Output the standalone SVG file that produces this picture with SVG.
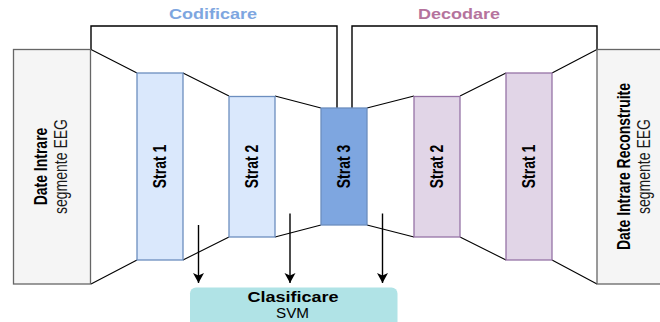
<svg xmlns="http://www.w3.org/2000/svg" width="660" height="322" viewBox="0 0 660 322">
  <defs>
    <style>
      .io { fill: #f5f5f5; stroke: #666666; stroke-width: 1.3; }
      .enc { fill: #dae8fc; stroke: #6c8ebf; stroke-width: 1.3; }
      .mid { fill: #7ea6e0; stroke: #6c8ebf; stroke-width: 1.3; }
      .dec { fill: #e1d5e7; stroke: #9673a6; stroke-width: 1.3; }
      .svm { fill: #b0e3e6; stroke: none; }
      .edge { fill: none; stroke: #000000; stroke-width: 1.1; }
      .brace { fill: none; stroke: #000000; stroke-width: 1.4; }
      .arrow { fill: none; stroke: #000000; stroke-width: 1.4; marker-end: url(#head); }
      text { font-family: "Liberation Sans", Arial, Helvetica, sans-serif; font-size: 14px; fill: #000000; text-anchor: middle; }
      .b { font-weight: bold; }
      .sub { fill: #1a1a1a; }
      .lblEnc { fill: #7ea6e0; font-weight: bold; }
      .lblDec { fill: #b5739d; font-weight: bold; }
    </style>
    <marker id="head" markerWidth="12" markerHeight="12" refX="10" refY="5.5" orient="auto" markerUnits="userSpaceOnUse">
      <path d="M0,0 L10,5.5 L0,11 L2.5,5.5 Z" fill="#000000"/>
    </marker>
  </defs>

  <!-- section titles -->
  <text class="lblEnc" x="213" y="19" textLength="88" lengthAdjust="spacingAndGlyphs">Codificare</text>
  <text class="lblDec" x="459" y="19" textLength="82" lengthAdjust="spacingAndGlyphs">Decodare</text>

  <!-- connectors: brackets, funnel outlines, arrows to the classifier -->
  <g id="connectors">
    <path class="brace" d="M91,49.5 V26 H337 V119"/>
    <path class="brace" d="M352,119 V26 H597 V49.5"/>

    <path class="edge" d="M91,49.5 L137,73 M183,73 L229,96 M275,96 L321,108 M367,108 L414,96 M460,96 L506,73 M552,73 L597,49.5"/>
    <path class="edge" d="M91,284 L137,260 M183,260 L229,237 M275,237 L321,225 M367,225 L414,237 M460,237 L506,260 M552,260 L597,284"/>

    <line class="arrow" x1="198.5" y1="225" x2="198.5" y2="283"/>
    <line class="arrow" x1="290" y1="213.5" x2="290" y2="283"/>
    <line class="arrow" x1="382.5" y1="213.5" x2="382.5" y2="283"/>
  </g>

  <g id="input">
    <rect class="io" x="13.5" y="49.5" width="77" height="234.5"/>
    <g transform="translate(52,166.5) scale(1.28,1) rotate(-90)">
      <text class="b" x="0" y="-4">Date Intrare</text>
      <text class="sub" x="0" y="11.5">segmente EEG</text>
    </g>
  </g>

  <g id="enc1">
    <rect class="enc" x="137" y="73" width="46" height="187"/>
    <text class="b" transform="translate(160,166.5) scale(1.28,1) rotate(-90)" x="0" y="5">Strat 1</text>
  </g>

  <g id="enc2">
    <rect class="enc" x="229" y="96.5" width="46" height="140.5"/>
    <text class="b" transform="translate(252,166.5) scale(1.28,1) rotate(-90)" x="0" y="5">Strat 2</text>
  </g>

  <g id="bottleneck">
    <rect class="mid" x="321" y="108" width="46" height="117"/>
    <text class="b" transform="translate(344,166.5) scale(1.28,1) rotate(-90)" x="0" y="5">Strat 3</text>
  </g>

  <g id="dec2">
    <rect class="dec" x="414" y="96.5" width="46" height="140.5"/>
    <text class="b" transform="translate(437,166.5) scale(1.28,1) rotate(-90)" x="0" y="5">Strat 2</text>
  </g>

  <g id="dec1">
    <rect class="dec" x="506" y="73" width="46" height="187"/>
    <text class="b" transform="translate(529,166.5) scale(1.28,1) rotate(-90)" x="0" y="5">Strat 1</text>
  </g>

  <g id="output">
    <rect class="io" x="597" y="49.5" width="77" height="234.5"/>
    <g transform="translate(635.5,166.5) scale(1.28,1) rotate(-90)">
      <text class="b" x="0" y="-4">Date Intrare Reconstruite</text>
      <text class="sub" x="0" y="11.5">segmente EEG</text>
    </g>
  </g>

  <g id="classifier">
    <rect class="svm" x="190" y="287.5" width="207.5" height="40" rx="6" ry="6"/>
    <text class="b" x="293" y="301.5" textLength="91" lengthAdjust="spacingAndGlyphs">Clasificare</text>
    <text x="292.5" y="317.5" textLength="33" lengthAdjust="spacingAndGlyphs">SVM</text>
  </g>
</svg>
